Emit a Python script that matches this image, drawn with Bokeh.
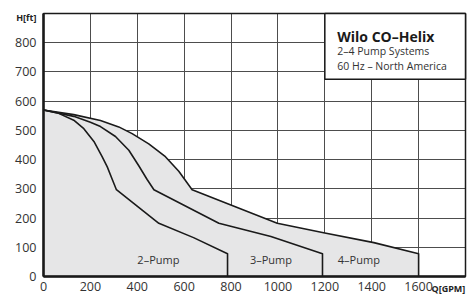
from bokeh.plotting import figure
from bokeh.models import Range1d, FixedTicker, Label
from bokeh.embed import file_html
from bokeh.resources import INLINE

# ---- data ----
flow_2pump = [0, 60, 129, 172, 215, 250, 272, 293, 311, 492, 640, 785, 785]
head_2pump = [570, 560, 535, 506, 462, 410, 375, 333, 297, 182, 133, 78, 0]

flow_3pump = [0, 129, 200, 243, 307, 364, 407, 442, 471, 748, 970, 1190, 1190]
head_3pump = [570, 548, 528, 513, 479, 432, 378, 332, 297, 182, 137, 78, 0]

flow_4pump = [0, 129, 243, 321, 378, 449, 520, 577, 634, 997, 1200, 1409, 1600, 1600]
head_4pump = [570, 554, 534, 512, 489, 454, 410, 360, 297, 182, 149, 116, 78, 0]

curve_names = ["2–Pump", "3–Pump", "4–Pump"]
curve_label_x = [490, 970, 1345]
curve_label_y = [57, 57, 57]

x_tick_values = [0, 200, 400, 600, 800, 1000, 1200, 1400, 1600]
x_grid_values = [200, 400, 600, 800, 1000, 1200, 1400, 1600, 1800]
y_tick_values = [0, 100, 200, 300, 400, 500, 600, 700, 800]
y_grid_values = [100, 200, 300, 400, 500, 600, 700, 800, 900]
x_max = 1800
y_max = 900

title_lines = ["Wilo CO–Helix", "2–4 Pump Systems", "60 Hz – North America"]
y_axis_title = "H[ft]"
x_axis_title = "Q[GPM]"

FONT = "Open Sans"
INK = "#1a1a1a"
TXT = "#333333"

# chart frame inside the 468x306 canvas: left 43, right 465, top 13, bottom 276 (px)
W, H = 468, 306
L, R, T, B = 43, 465, 13, 276
gpm_per_px = x_max / (R - L)
ft_per_px = y_max / (B - T)
x_range = Range1d(-L * gpm_per_px, x_max + (W - R) * gpm_per_px)
y_range = Range1d(-(H - B) * ft_per_px, y_max + T * ft_per_px)

p = figure(width=W, height=H, x_range=x_range, y_range=y_range,
           output_backend="svg", toolbar_location=None,
           min_border_left=0, min_border_right=0, min_border_top=0, min_border_bottom=0)
p.background_fill_color = "white"
p.border_fill_color = "white"
p.outline_line_color = None

for ax, ticks, bnds in ((p.xaxis, x_tick_values, (0, x_max)), (p.yaxis, y_tick_values, (0, y_max))):
    ax.fixed_location = 0
    ax.bounds = bnds
    ax.ticker = FixedTicker(ticks=ticks)
    ax.major_tick_in = 0
    ax.major_tick_out = 0
    ax.minor_tick_in = 0
    ax.minor_tick_out = 0
    ax.major_tick_line_color = None
    ax.minor_tick_line_color = None
    ax.axis_line_color = None
    ax.major_label_text_font = FONT
    ax.major_label_text_font_size = "12.5px"
    ax.major_label_text_color = TXT
p.xaxis.major_label_standoff = 5
p.yaxis.major_label_standoff = 7

xg = p.xgrid[0]
yg = p.ygrid[0]
xg.ticker = FixedTicker(ticks=x_grid_values)
yg.ticker = FixedTicker(ticks=y_grid_values)
xg.bounds = (0, x_max)
yg.bounds = (0, y_max)
if "cross_bounds" in xg.properties():
    xg.cross_bounds = (0, y_max)
    yg.cross_bounds = (0, x_max)
for g in (xg, yg):
    g.grid_line_color = "#4d4d4d"
    g.grid_line_width = 1
    g.grid_line_alpha = 1

# filled area under the outer (4-pump) envelope
p.varea(x=flow_4pump, y1=0, y2=head_4pump, fill_color="#e6e6e7")

for fx, hy in ((flow_2pump, head_2pump), (flow_3pump, head_3pump), (flow_4pump, head_4pump)):
    p.line(fx, hy, line_color=INK, line_width=1.6, line_join="round")

# chart border: thin top/right, heavy left/bottom
p.quad(left=0, right=x_max, bottom=0, top=y_max, fill_color=None, line_color=INK, line_width=1.5)
p.segment(x0=[0, 0], y0=[0, 0], x1=[0, x_max], y1=[y_max, 0], line_color=INK, line_width=2.5)

for name, lx, ly in zip(curve_names, curve_label_x, curve_label_y):
    p.add_layout(Label(x=lx, y=ly, text=name, text_align="center", text_baseline="alphabetic",
                       text_font=FONT, text_font_size="11px", text_color=TXT))

# title box
p.quad(left=1200, right=x_max, bottom=675, top=y_max, fill_color="white",
       line_color=INK, line_width=1.5)
p.add_layout(Label(x=1253, y=820, text=title_lines[0], text_baseline="alphabetic",
                   text_font=FONT, text_font_style="bold", text_font_size="14px", text_color=INK))
p.add_layout(Label(x=1253, y=772, text=title_lines[1], text_baseline="alphabetic",
                   text_font=FONT, text_font_size="10.5px", text_color=TXT))
p.add_layout(Label(x=1253, y=722, text=title_lines[2], text_baseline="alphabetic",
                   text_font=FONT, text_font_size="10.5px", text_color=TXT))

# axis titles
p.add_layout(Label(x=-30, y=886, text=y_axis_title, text_align="right", text_baseline="middle",
                   text_font=FONT, text_font_style="bold", text_font_size="9px", text_color="#222222"))
p.add_layout(Label(x=1655, y=-41, text=x_axis_title, text_align="left", text_baseline="middle",
                   text_font=FONT, text_font_style="bold", text_font_size="9px", text_color="#222222"))

open("out.html", "w").write(file_html(p, INLINE))
